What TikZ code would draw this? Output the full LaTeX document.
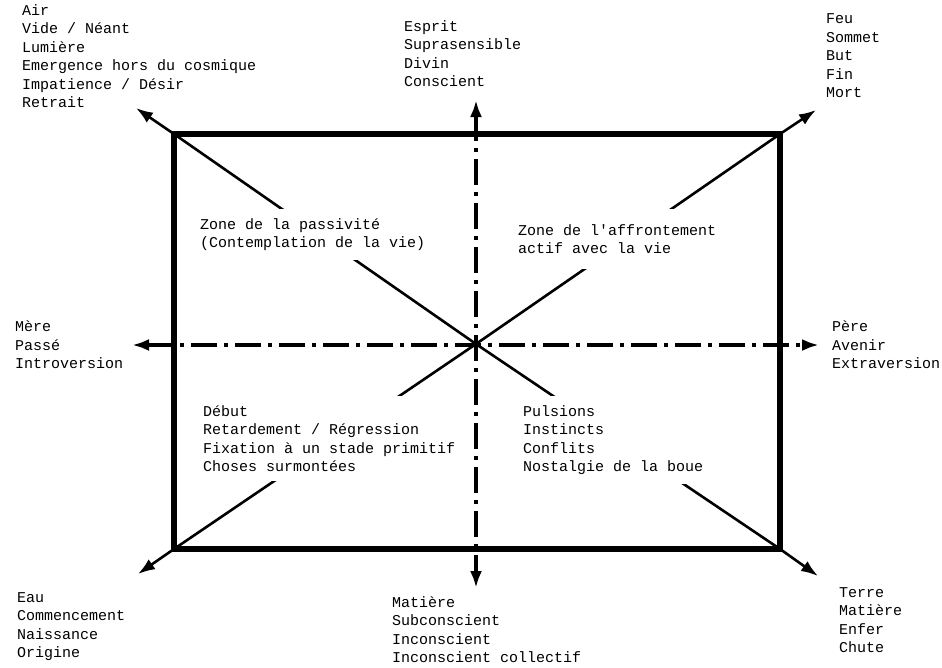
\documentclass[tikz,border=0pt]{standalone}
\usepackage{fontspec}
\setmonofont{Liberation Mono}
\usetikzlibrary{arrows.meta,positioning}
\tikzset{
  frame/.style={line width=6.5pt},
  diag/.style={line width=2.6pt,-{Latex[length=17pt,width=12pt]}},
  axis/.style={line width=3.5pt,dash pattern=on 26pt off 7pt on 4pt off 7pt,
    {Latex[length=17pt,width=12pt]}-{Latex[length=17pt,width=12pt]}},
  words/.style={font=\ttfamily\fontsize{15}{18.5}\selectfont,align=left,
    anchor=base west,inner sep=0pt},
  zone/.style={words,fill=white,inner xsep=8pt,inner ysep=9pt},
}

\begin{document}
\begin{tikzpicture}[x=1pt,y=-1pt]
\useasboundingbox (0,0) rectangle (942,667);

% frame corners and centre
\coordinate (nw) at (174,134);
\coordinate (ne) at (780,134);
\coordinate (se) at (780,549);
\coordinate (sw) at (174,549);
\coordinate (c) at (476,344);

% arrow tips
\coordinate (tnw) at (136,108);
\coordinate (tne) at (816,110);
\coordinate (tse) at (818,576);
\coordinate (tsw) at (138,574);
\coordinate (tn) at (476,100);
\coordinate (ts) at (476,588);
\coordinate (tw) at (132,345);
\coordinate (te) at (819,345);

\draw[diag] (c) -- (nw) -- (tnw);
\draw[diag] (c) -- (ne) -- (tne);
\draw[diag] (c) -- (se) -- (tse);
\draw[diag] (c) -- (sw) -- (tsw);
\draw[axis] (tn) -- (ts);
\draw[axis] (tw) -- (te);
\draw[frame] (nw) rectangle (se);

% zones inside the frame (placed by the baseline of their last line)
\node[zone] (passive) at (192,247.5) {Zone de la passivité\\(Contemplation de la vie)};
\node[zone,inner ysep=15pt] (active) at (510,253.5) {Zone de l'affrontement\\actif avec la vie};
\node[zone] (regress) at (195,471.5) {Début\\Retardement / Régression\\Fixation à un stade primitif\\Choses surmontées};
\node[zone] (drives) at (515,471.5) {Pulsions\\Instincts\\Conflits\\Nostalgie de la boue};

% outer labels
\node[words] (air) at (22,107.5) {Air\\Vide / Néant\\Lumière\\Emergence hors du cosmique\\Impatience / Désir\\Retrait};
\node[words] (esprit) at (404,86.5) {Esprit\\Suprasensible\\Divin\\Conscient};
\node[words] (feu) at (826,97.5) {Feu\\Sommet\\But\\Fin\\Mort};
\node[words] (mere) at (15,368.5) {Mère\\Passé\\Introversion};
\node[words] (pere) at (832,368.5) {Père\\Avenir\\Extraversion};
\node[words] (eau) at (17,657.5) {Eau\\Commencement\\Naissance\\Origine};
\node[words] (matiere) at (392,662.5) {Matière\\Subconscient\\Inconscient\\Inconscient collectif};
\node[words] (terre) at (839,652.5) {Terre\\Matière\\Enfer\\Chute};

\end{tikzpicture}
\end{document}
